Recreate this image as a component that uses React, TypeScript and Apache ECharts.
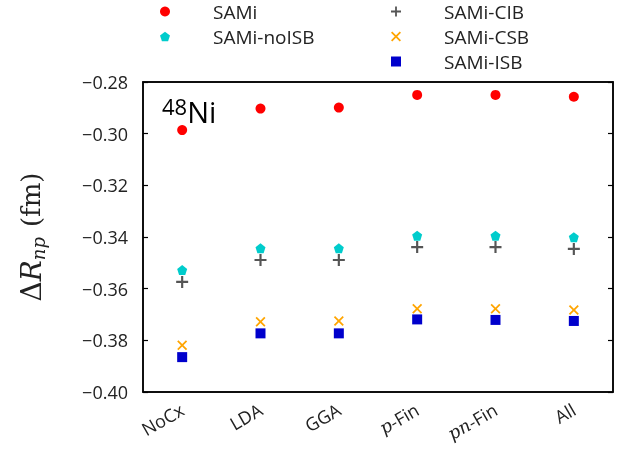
import React, { useEffect, useRef } from "react";
import * as echarts from "echarts";

const categories = ["NoCx", "LDA", "GGA", "p-Fin", "pn-Fin", "All"];
const sami = [-0.2986, -0.2903, -0.2899, -0.285, -0.285, -0.2857];
const samiNoISB = [-0.3528, -0.3444, -0.3444, -0.3395, -0.3395, -0.3401];
const samiCIB = [-0.3574, -0.3489, -0.3489, -0.3439, -0.3439, -0.3446];
const samiCSB = [-0.3819, -0.3728, -0.3725, -0.3678, -0.3678, -0.3683];
const samiISB = [-0.3865, -0.3773, -0.3773, -0.3719, -0.3721, -0.3725];
const yTicks = [-0.4, -0.38, -0.36, -0.34, -0.32, -0.3, -0.28];

const PENTAGON = "path://M0,-1 L0.951,-0.309 L0.588,0.809 L-0.588,0.809 L-0.951,-0.309 Z";
const PLUS =
  "path://M-1,-0.18 L-0.18,-0.18 L-0.18,-1 L0.18,-1 L0.18,-0.18 L1,-0.18 L1,0.18 L0.18,0.18 L0.18,1 L-0.18,1 L-0.18,0.18 L-1,0.18 Z";
const CROSS =
  "path://M-1,-0.75 L-0.75,-1 L0,-0.25 L0.75,-1 L1,-0.75 L0.25,0 L1,0.75 L0.75,1 L0,0.25 L-0.75,1 L-1,0.75 L-0.25,0 Z";

const SANS = "'Open Sans', 'DejaVu Sans', sans-serif";
const SERIF = "'DejaVu Serif', 'Liberation Serif', serif";

export default function App() {
  const ref = useRef<HTMLDivElement>(null);
  useEffect(() => {
    if (!ref.current) return;
    const chart = echarts.init(ref.current, null, { renderer: "svg" });
    const fmtY = (v: number) => (v < 0 ? "\u2212" : "") + Math.abs(v).toFixed(2);
    const mk = (name: string, data: number[], symbol: string, size: number, color: string) => ({
      name,
      type: "scatter",
      data,
      symbol,
      symbolSize: size,
      itemStyle: { color, opacity: 1 },
      z: 5,
    });
    const legendBase = {
      orient: "vertical",
      itemWidth: 10,
      itemHeight: 10,
      itemGap: 6,
      padding: [2, 5, 5, 5],
      textStyle: { fontFamily: SANS, fontSize: 19, color: "#222", padding: [0, 0, 0, 38] },
    };
    chart.setOption({
      animation: false,
      grid: { left: 143, top: 82, width: 470, height: 310, show: true, borderColor: "#000", borderWidth: 1.5 },
      legend: [
        { ...legendBase, left: 155, top: 0, data: ["SAMi", "SAMi-noISB"] },
        { ...legendBase, left: 386, top: 0, data: ["SAMi-CIB", "SAMi-CSB", "SAMi-ISB"] },
      ],
      xAxis: [
        {
          type: "category",
          data: categories,
          boundaryGap: true,
          axisLine: { lineStyle: { color: "#000", width: 1.5 } },
          axisTick: { inside: true, alignWithLabel: true, length: 5, lineStyle: { color: "#000", width: 1.2 } },
          axisLabel: {
            rotate: 30,
            margin: 16,
            fontFamily: SANS,
            fontSize: 18,
            color: "#222",
            formatter: (v: string) => {
              if (v === "p-Fin") return "{m|p}-Fin";
              if (v === "pn-Fin") return "{m|pn}-Fin";
              return v;
            },
            rich: { m: { fontFamily: SERIF, fontStyle: "italic", fontSize: 18, color: "#222" } },
          },
          splitLine: { show: false },
        },
        {
          type: "category",
          data: categories,
          position: "top",
          boundaryGap: true,
          axisLine: { lineStyle: { color: "#000", width: 1.5 } },
          axisTick: { inside: true, alignWithLabel: true, length: 5, lineStyle: { color: "#000", width: 1.2 } },
          axisLabel: { show: false },
        },
      ],
      yAxis: [
        {
          type: "value",
          min: -0.4,
          max: -0.28,
          interval: 0.02,
          axisLine: { show: true, lineStyle: { color: "#000", width: 1.5 } },
          axisTick: { show: true, inside: true, length: 5, lineStyle: { color: "#000", width: 1.2 } },
          axisLabel: {
            margin: 15,
            fontFamily: SANS,
            fontSize: 18,
            color: "#222",
            formatter: (v: number) => {
              const t = yTicks.find((x) => Math.abs(x - v) < 1e-9);
              return fmtY(t !== undefined ? t : v);
            },
          },
          splitLine: { show: false },
          name: "{d|\u0394}{r|R}{s|np}{f|(fm)}",
          nameLocation: "middle",
          nameGap: 96,
          nameRotate: 90,
          nameTextStyle: {
            rich: {
              d: { fontFamily: SERIF, fontSize: 28, color: "#222" },
              r: { fontFamily: SERIF, fontStyle: "italic", fontSize: 28, color: "#222" },
              s: { fontFamily: SERIF, fontStyle: "italic", fontSize: 18, color: "#222", verticalAlign: "bottom", padding: [14, 0, 0, 0] },
              f: { fontFamily: SERIF, fontSize: 26, color: "#222", padding: [0, 0, 0, 10] },
            },
          },
        },
        {
          type: "value",
          min: -0.4,
          max: -0.28,
          interval: 0.02,
          position: "right",
          axisLine: { show: true, lineStyle: { color: "#000", width: 1.5 } },
          axisTick: { show: true, inside: true, length: 5, lineStyle: { color: "#000", width: 1.2 } },
          axisLabel: { show: false },
          splitLine: { show: false },
        },
      ],
      graphic: [
        {
          type: "text",
          left: 162,
          top: 95,
          style: {
            text: "{a|48}{b|Ni}",
            rich: {
              a: { fontFamily: SANS, fontSize: 22, color: "#222", verticalAlign: "top", padding: [0, 0, 10, 0] },
              b: { fontFamily: SANS, fontSize: 29, color: "#222" },
            },
          },
        },
      ],
      series: [
        mk("SAMi", sami, "circle", 10, "#ff0000"),
        mk("SAMi-noISB", samiNoISB, PENTAGON, 10, "#00cccc"),
        mk("SAMi-CIB", samiCIB, PLUS, 12, "#555555"),
        mk("SAMi-CSB", samiCSB, CROSS, 10, "#ffa500"),
        mk("SAMi-ISB", samiISB, "rect", 10, "#0000cc"),
      ],
    });
    return () => chart.dispose();
  }, []);
  return <div ref={ref} style={{ position: "fixed", left: 0, top: 0, width: 637, height: 458 }} />;
}
